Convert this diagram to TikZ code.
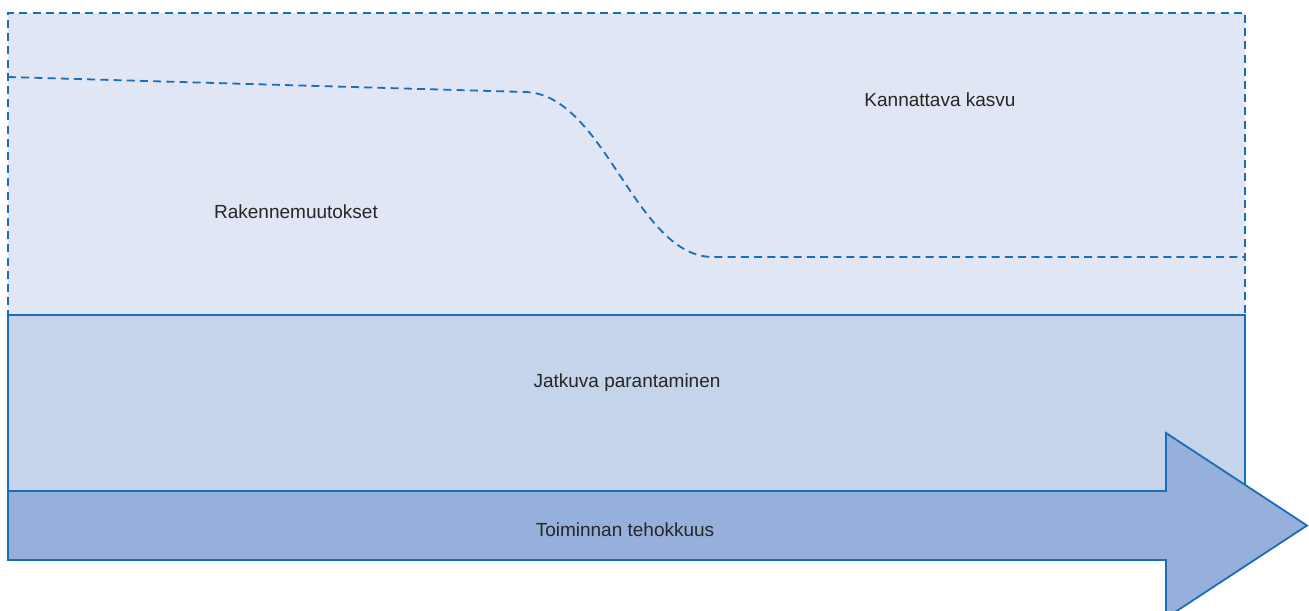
\documentclass[tikz,border=0pt]{standalone}
\usepackage{fontspec}
\setmainfont{Liberation Sans}
\definecolor{lineblue}{HTML}{1A6DB8}
\definecolor{fillA}{HTML}{E0E6F4}
\definecolor{fillB}{HTML}{C5D3EB}
\definecolor{fillC}{HTML}{97B0DB}
\begin{document}
\begin{tikzpicture}[x=0.5pt,y=-0.5pt,
  dashline/.style={draw=lineblue,line width=0.9pt,dash pattern=on 4pt off 2.6pt},
  solidline/.style={draw=lineblue,line width=0.9pt,line join=miter},
  lbl/.style={font=\fontsize{9.5}{11}\selectfont,text=black!85,inner sep=0pt}]
\useasboundingbox (0,0) rectangle (1309,610);
\clip (0,0) rectangle (1309,610);
% outer dashed region
\fill[fillA] (8,13) rectangle (1245,490);
\draw[dashline] (8,490) -- (8,13) -- (1245,13) -- (1245,490);
% inner dashed boundary
\draw[dashline] (8,77) -- (525,92) .. controls (605,94) and (635,257) .. (713,257) -- (1245,257);
% continuous improvement box
\draw[solidline,fill=fillB] (8,315) rectangle (1245,491);
% arrow
\draw[solidline,fill=fillC] (8,491) -- (1166,491) -- (1166,433) -- (1307,525.5) -- (1166,618) -- (1166,560) -- (8,560) -- cycle;
% labels
\node[lbl] (kasvu) at (940,100) {Kannattava kasvu};
\node[lbl] (rakenne) at (296,212) {Rakennemuutokset};
\node[lbl] (jatkuva) at (627,383) {Jatkuva parantaminen};
\node[lbl] (tehokkuus) at (625,530) {Toiminnan tehokkuus};
\end{tikzpicture}
\end{document}
